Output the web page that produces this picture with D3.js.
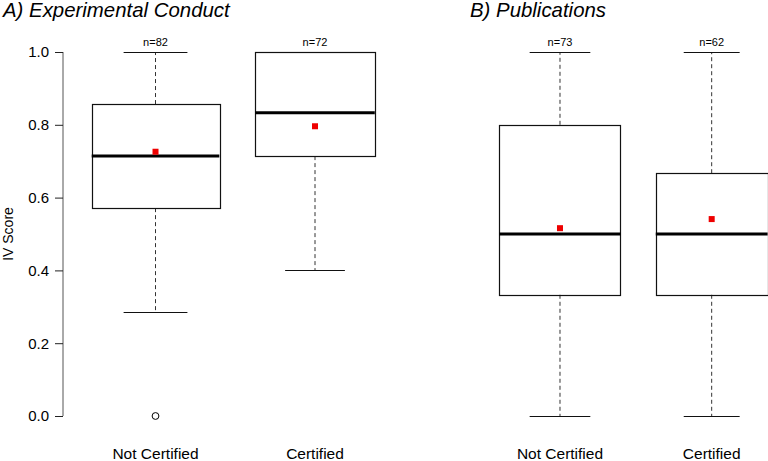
<!DOCTYPE html>
<html>
<head>
<meta charset="utf-8">
<script src="https://cdn.jsdelivr.net/npm/d3@7"></script>
<style>
html,body{margin:0;padding:0;background:#fff;}
svg{display:block;}
text{font-family:"Liberation Sans",Arial,Helvetica,sans-serif;fill:#000;}
</style>
</head>
<body>
<svg id="chart" width="768" height="461"></svg>
<script>
// ---- data ----
const categories = ["Not Certified", "Certified"];
const panelTitles = ["A) Experimental Conduct", "B) Publications"];
const yTicks = [0.0, 0.2, 0.4, 0.6, 0.8, 1.0];

// Panel A: Experimental Conduct
const aN = [82, 72];
const aLow = [0.286, 0.4];
const aQ1 = [0.571, 0.714];
const aMedian = [0.714, 0.833];
const aQ3 = [0.857, 1.0];
const aHigh = [1.0, 1.0];
const aMean = [0.726, 0.796];
const aOutliers = [[0.0], []];

// Panel B: Publications
const bN = [73, 62];
const bLow = [0.0, 0.0];
const bQ1 = [0.333, 0.333];
const bMedian = [0.5, 0.5];
const bQ3 = [0.8, 0.667];
const bHigh = [1.0, 1.0];
const bMean = [0.516, 0.541];
const bOutliers = [[], []];

function buildStats(n, low, q1, med, q3, high, mean, outl) {
  return categories.map((c, i) => ({
    cat: c, pos: i + 1, n: n[i], low: low[i], q1: q1[i], med: med[i],
    q3: q3[i], high: high[i], mean: mean[i], out: outl[i]
  }));
}

const panels = [
  { title: panelTitles[0], stats: buildStats(aN, aLow, aQ1, aMedian, aQ3, aHigh, aMean, aOutliers),
    xr: [63, 63 + 2.16 * 159.5], axis: true, titleX: 3 },
  { title: panelTitles[1], stats: buildStats(bN, bLow, bQ1, bMedian, bQ3, bHigh, bMean, bOutliers),
    xr: [472, 472 + 2.16 * 151.7], axis: false, titleX: 470 }
];

const svg = d3.select("#chart");
const y = d3.scaleLinear().domain([0, 1]).range([416, 52]);

panels.forEach(p => {
  const x = d3.scaleLinear().domain([0.42, 2.58]).range(p.xr);
  const unit = x(2) - x(1);
  const maxSqrt = d3.max(p.stats, d => Math.sqrt(d.n));
  const g = svg.append("g");

  // title
  g.append("text").attr("x", p.titleX).attr("y", 17)
    .attr("font-size", 20.4).attr("font-style", "italic").text(p.title);

  if (p.axis) {
    const ax = d3.axisLeft(y).tickValues(yTicks).tickFormat(d3.format(".1f"))
      .tickSize(8).tickPadding(6);
    const axg = g.append("g").attr("transform", `translate(${p.xr[0]},0)`).call(ax);
    axg.select(".domain").attr("stroke", "#555").attr("d", `M0,${y(1)}V${y(0)}`);
    axg.selectAll(".tick line").attr("stroke", "#222");
    axg.selectAll(".tick text").attr("font-size", 15)
      .attr("font-family", "Liberation Sans, Arial, sans-serif").attr("fill", "#000");
    g.append("text").attr("transform", `translate(13,${(y(0) + y(1)) / 2}) rotate(-90)`)
      .attr("text-anchor", "middle").attr("font-size", 14).text("IV Score");
  }

  // category labels
  g.selectAll("text.cat").data(p.stats).join("text").attr("class", "cat")
    .attr("x", d => x(d.pos)).attr("y", 459).attr("text-anchor", "middle")
    .attr("font-size", 15.5).text(d => d.cat);

  p.stats.forEach(d => {
    const cx = x(d.pos);
    const w = 0.8 * unit * Math.sqrt(d.n) / maxSqrt;
    const hw = w / 2, sw = w / 4;
    // whiskers (dashed)
    if (d.high > d.q3) {
      g.append("line").attr("x1", cx).attr("x2", cx).attr("y1", y(d.q3)).attr("y2", y(d.high))
        .attr("stroke", "#333").attr("stroke-dasharray", "4,3");
    }
    if (d.low < d.q1) {
      g.append("line").attr("x1", cx).attr("x2", cx).attr("y1", y(d.q1)).attr("y2", y(d.low))
        .attr("stroke", "#333").attr("stroke-dasharray", "4,3");
    }
    // staples
    [d.low, d.high].forEach(v => {
      g.append("line").attr("x1", cx - sw).attr("x2", cx + sw)
        .attr("y1", Math.round(y(v)) + 0.5).attr("y2", Math.round(y(v)) + 0.5)
        .attr("stroke", "#111").attr("stroke-width", 1.2);
    });
    // box
    g.append("rect").attr("x", Math.round(cx - hw) + 0.5).attr("y", Math.round(y(d.q3)) + 0.5)
      .attr("width", Math.round(w)).attr("height", Math.round(y(d.q1) - y(d.q3)))
      .attr("fill", "none").attr("stroke", "#111").attr("stroke-width", 1.2);
    // median
    g.append("line").attr("x1", cx - hw).attr("x2", cx + hw)
      .attr("y1", y(d.med)).attr("y2", y(d.med)).attr("stroke", "#000").attr("stroke-width", 3);
    // outliers
    d.out.forEach(v => {
      g.append("circle").attr("cx", cx).attr("cy", y(v)).attr("r", 3.4)
        .attr("fill", "none").attr("stroke", "#000").attr("stroke-width", 1);
    });
    // mean
    g.append("rect").attr("x", cx - 3).attr("y", y(d.mean) - 3).attr("width", 6).attr("height", 6)
      .attr("fill", "#ee0000");
    // n label
    g.append("text").attr("x", cx).attr("y", y(d.high) - 6).attr("text-anchor", "middle")
      .attr("font-size", 11).text("n=" + d.n);
  });
});
</script>
</body>
</html>
